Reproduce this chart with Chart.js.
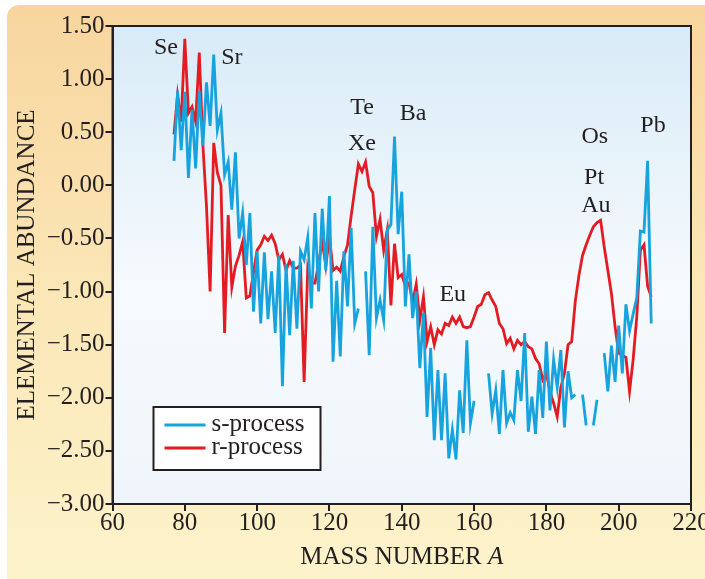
<!DOCTYPE html>
<html>
<head>
<meta charset="utf-8">
<title>Elemental abundance</title>
<script src="https://cdn.jsdelivr.net/npm/chart.js@4.4.1/dist/chart.umd.min.js"></script>
<style>
    html, body { margin: 0; padding: 0; background: #fff; overflow: hidden; }
    #frame {
        position: absolute; left: 7px; top: 5px; width: 730px; height: 620px;
        border-radius: 12px;
        background: linear-gradient(to bottom, #f8d59e 0%, #fbe6b6 45%, #fdf5ce 100%);
    }
    #wrap { position: absolute; left: 0; top: 0; width: 705px; height: 579px; }
</style>
</head>
<body>
<div id="frame"></div>
<div id="wrap"><canvas id="abundanceChart" width="705" height="579"></canvas></div>
<script>
// mass numbers A = 77 ... 209
const massNumbers = [
    77, 78, 79, 80, 81, 82, 83, 84, 85, 86, 87, 88, 89, 90, 91, 92, 93, 94, 95, 96,
    97, 98, 99, 100, 101, 102, 103, 104, 105, 106, 107, 108, 109, 110, 111, 112, 113, 114, 115, 116,
    117, 118, 119, 120, 121, 122, 123, 124, 125, 126, 127, 128, 129, 130, 131, 132, 133, 134, 135, 136,
    137, 138, 139, 140, 141, 142, 143, 144, 145, 146, 147, 148, 149, 150, 151, 152, 153, 154, 155, 156,
    157, 158, 159, 160, 161, 162, 163, 164, 165, 166, 167, 168, 169, 170, 171, 172, 173, 174, 175, 176,
    177, 178, 179, 180, 181, 182, 183, 184, 185, 186, 187, 188, 189, 190, 191, 192, 193, 194, 195, 196,
    197, 198, 199, 200, 201, 202, 203, 204, 205, 206, 207, 208, 209
];

// s-process abundances (null = no data)
const sProcess = [
    0.23, 0.89, 0.33, 0.88, 0.07, 0.71, 0.16, 0.89, 0.37, 0.97, 0.56, 1.23, 0.52, 0.68, 0.10, 0.22, -0.23, 0.31, -0.50, -0.26,
    -0.75, -0.26, -1.19, -0.62, -1.30, -0.63, -1.26, -0.81, -1.39, -0.66, -1.89, -0.74, -1.41, -0.71, -1.35, -0.62, -0.70, -0.49, -1.16, -0.26,
    -1.00, -0.22, -0.80, -0.10, -1.66, -0.90, -1.61, -0.62, -1.14, -0.40, -1.30, -1.16, null, -0.81, -1.60, -0.39, -1.25, -1.08, -1.27, -0.42,
    -0.37, 0.46, -0.46, -0.06, -1.14, -0.65, -1.25, -1.00, -1.72, -1.20, -2.18, -1.53, -2.40, -1.74, -2.40, -1.77, -2.57, -2.30, -2.58, -1.93,
    -2.33, -1.46, -2.24, -2.03, null, null, null, -1.77, -2.15, -1.93, -2.34, -1.74, -2.24, -2.14, -2.21, -1.74, -2.03, -1.39, -2.32, -1.99,
    -2.34, -1.74, -2.19, -1.47, -2.12, -1.64, -1.90, -1.55, -2.28, -1.75, -2.00, -1.97, null, -1.97, -2.26, null, -2.26, -2.02, null, -1.58,
    -1.94, -1.51, -1.85, -1.32, -1.77, -1.12, -1.37, -1.21, -1.06, -0.43, -0.44, 0.23, -1.30
];

// r-process abundances
const rProcess = [
    0.48, 0.85, 0.60, 1.38, 0.68, 0.74, 0.60, 1.25, 0.38, -0.20, -1.00, 0.40, 0.12, 0.00, -1.39, -0.28, -0.96, -0.76, -0.66, -0.53,
    -1.06, -1.04, -0.82, -0.61, -0.56, -0.48, -0.52, -0.47, -0.55, -0.70, -0.65, -0.80, -0.71, -0.78, -0.78, -0.75, -1.85, -0.78, -0.92, -0.92,
    -0.74, -0.52, -0.76, -0.48, -0.80, -0.77, -0.81, -0.67, -0.56, -0.29, -0.04, 0.20, 0.13, 0.22, -0.01, -0.07, -0.48, -0.32, -0.61, -0.42,
    -1.13, -0.55, -0.87, -0.84, -0.95, -0.92, -1.10, -0.93, -1.27, -1.05, -1.47, -1.33, -1.50, -1.36, -1.40, -1.30, -1.32, -1.24, -1.30, -1.24,
    -1.33, -1.34, -1.33, -1.24, -1.14, -1.12, -1.03, -1.01, -1.08, -1.14, -1.30, -1.35, -1.49, -1.44, -1.54, -1.46, -1.50, -1.47, -1.52, -1.54,
    -1.63, -1.68, -1.83, -1.77, -1.94, -2.05, -2.18, -1.90, -1.77, -1.50, -1.47, -1.09, -0.85, -0.66, -0.56, -0.47, -0.39, -0.35, -0.33, -0.58,
    -0.80, -1.02, -1.33, -1.58, -1.60, -1.62, -1.94, -1.64, -1.24, -0.61, -0.56, -0.95, -1.05
];

const xTicks = [60, 80, 100, 120, 140, 160, 180, 200, 220];
const yTicks = [1.5, 1.0, 0.5, 0.0, -0.5, -1.0, -1.5, -2.0, -2.5, -3.0];

// element names and where they sit (A, abundance)
const elementNames = ['Se', 'Sr', 'Te', 'Xe', 'Ba', 'Eu', 'Os', 'Pt', 'Au', 'Pb'];
const elementMass = [74.8, 93.0, 129.0, 129.0, 143.1, 154.1, 193.4, 193.2, 193.7, 209.5];
const elementLevel = [1.30, 1.20, 0.73, 0.39, 0.67, -1.03, 0.46, 0.07, -0.19, 0.56];

const FONT = "'Liberation Serif', 'Times New Roman', serif";
const INK = '#231f20';
const S_COLOR = '#17a3de';
const R_COLOR = '#e31b23';

const toPoints = values => massNumbers.map((a, i) => ({ x: a, y: values[i] }));

const fmtTick = v => (v < 0 ? '\u2212' : '') + Math.abs(v).toFixed(2);

// light blue wash inside the plot box
const plotBackground = {
    id: 'plotBackground',
    beforeDraw(chart) {
        const { ctx, chartArea: a } = chart;
        const g = ctx.createLinearGradient(0, a.top, 0, a.bottom);
        g.addColorStop(0, '#d8ebf7');
        g.addColorStop(0.55, '#f6fafd');
        g.addColorStop(1, '#eff5fa');
        ctx.save();
        ctx.fillStyle = g;
        ctx.fillRect(a.left, a.top, a.right - a.left, a.bottom - a.top);
        ctx.restore();
    }
};

// box outline, element labels, legend and x title
const decorations = {
    id: 'decorations',
    afterDraw(chart) {
        const { ctx, chartArea: a, scales } = chart;
        ctx.save();

        ctx.strokeStyle = INK;
        ctx.lineWidth = 2;
        ctx.strokeRect(a.left, a.top, a.right - a.left, a.bottom - a.top);

        ctx.fillStyle = INK;
        ctx.textAlign = 'center';
        ctx.textBaseline = 'middle';
        ctx.font = '24px ' + FONT;
        elementNames.forEach((name, i) => {
            ctx.fillText(name, scales.x.getPixelForValue(elementMass[i]), scales.y.getPixelForValue(elementLevel[i]));
        });

        // legend
        const lx = a.left + 41, ly = a.bottom - 97, lw = 167, lh = 63;
        ctx.fillStyle = '#fff';
        ctx.fillRect(lx, ly, lw, lh);
        ctx.strokeStyle = INK;
        ctx.lineWidth = 2;
        ctx.strokeRect(lx, ly, lw, lh);
        ctx.font = '25px ' + FONT;
        ctx.textAlign = 'left';
        chart.data.datasets.forEach((ds, i) => {
            const y = ly + 18 + i * 23;
            ctx.strokeStyle = ds.borderColor;
            ctx.lineWidth = 3;
            ctx.beginPath();
            ctx.moveTo(lx + 11, y);
            ctx.lineTo(lx + 52, y);
            ctx.stroke();
            ctx.fillStyle = INK;
            ctx.fillText(ds.label, lx + 58, y - 1);
        });

        // x title with italic A
        const plain = 'MASS NUMBER ';
        ctx.font = '25px ' + FONT;
        const w1 = ctx.measureText(plain).width;
        ctx.font = 'italic 25px ' + FONT;
        const w2 = ctx.measureText('A').width;
        const x0 = (a.left + a.right) / 2 - (w1 + w2) / 2;
        const ty = 557;
        ctx.fillStyle = INK;
        ctx.font = '25px ' + FONT;
        ctx.fillText(plain, x0, ty);
        ctx.font = 'italic 25px ' + FONT;
        ctx.fillText('A', x0 + w1, ty);

        ctx.restore();
    }
};

document.addEventListener('DOMContentLoaded', () => {
    const ctx = document.getElementById('abundanceChart');
    new Chart(ctx.getContext('2d'), {
        type: 'line',
        data: {
            datasets: [
                {
                    label: 's-process',
                    data: toPoints(sProcess),
                    borderColor: S_COLOR,
                    borderWidth: 2.8,
                    pointRadius: 0,
                    tension: 0,
                    spanGaps: false,
                },
                {
                    label: 'r-process',
                    data: toPoints(rProcess),
                    borderColor: R_COLOR,
                    borderWidth: 2.8,
                    pointRadius: 0,
                    tension: 0,
                    spanGaps: false,
                }
            ]
        },
        options: {
            responsive: false,
            animation: false,
            layout: { padding: { left: 8, right: 14, top: 26, bottom: 0 } },
            plugins: {
                legend: { display: false },
                tooltip: { enabled: false }
            },
            scales: {
                x: {
                    type: 'linear',
                    min: 60,
                    max: 220,
                    afterBuildTicks: s => { s.ticks = xTicks.map(v => ({ value: v })); },
                    ticks: { color: INK, font: { family: FONT, size: 25, lineHeight: 1 }, padding: 0, maxRotation: 0 },
                    grid: { drawOnChartArea: false, drawTicks: true, tickLength: 7, color: INK, lineWidth: 2 },
                    border: { display: true, color: INK, width: 2 },
                    afterFit: s => { s.height = 75; s.paddingLeft = 0; s.paddingRight = 0; }
                },
                y: {
                    type: 'linear',
                    min: -3,
                    max: 1.5,
                    afterBuildTicks: s => { s.ticks = yTicks.map(v => ({ value: v })); },
                    ticks: { color: INK, font: { family: FONT, size: 25 }, padding: 1, callback: fmtTick },
                    grid: { drawOnChartArea: false, drawTicks: true, tickLength: 7, color: INK, lineWidth: 2 },
                    border: { display: true, color: INK, width: 2 },
                    title: {
                        display: true,
                        text: 'ELEMENTAL ABUNDANCE',
                        color: INK,
                        font: { family: FONT, size: 25 },
                        padding: { top: 4, bottom: 0 }
                    },
                    afterFit: s => { s.width = 104.5; s.paddingTop = 0; s.paddingBottom = 0; }
                }
            }
        },
        plugins: [plotBackground, decorations]
    });
});
</script>
</body>
</html>
